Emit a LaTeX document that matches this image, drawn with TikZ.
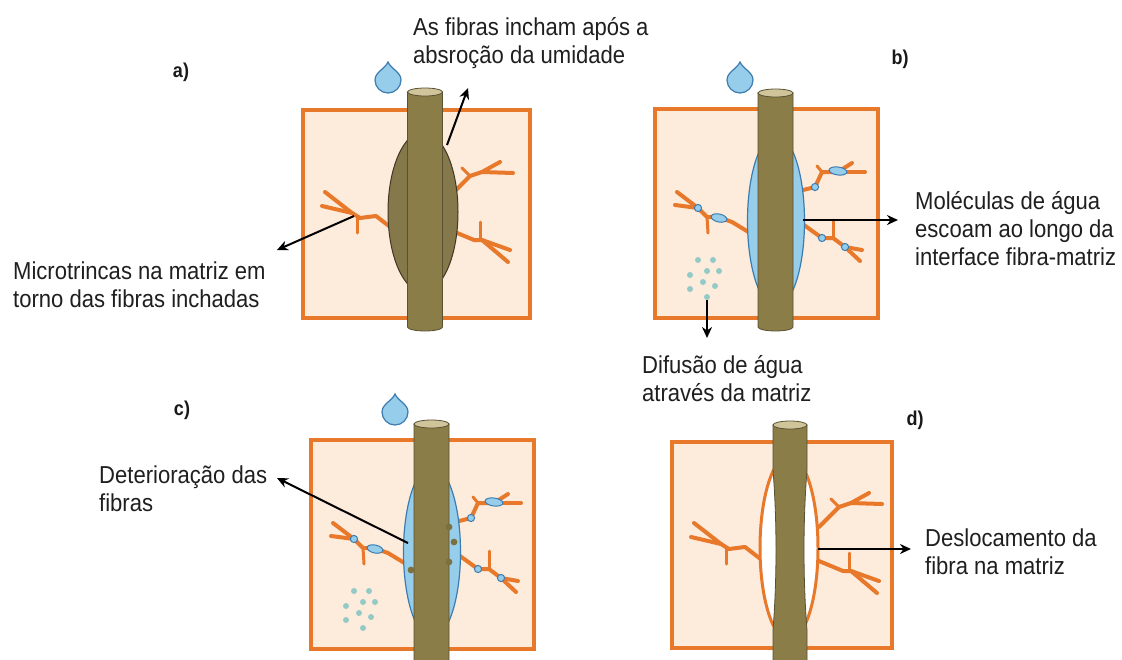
\documentclass[tikz,border=0pt]{standalone}
\usepackage{fontspec}
\setmainfont[FakeStretch=0.9]{Liberation Sans}
\usetikzlibrary{arrows.meta}

\definecolor{matfill}{HTML}{FDEBDC}
\definecolor{matedge}{HTML}{E8792B}
\definecolor{fiberc}{HTML}{8A7D48}
\definecolor{fiberedge}{HTML}{5A5032}
\definecolor{fibertop}{HTML}{CFC49A}
\definecolor{swellc}{HTML}{85784A}
\definecolor{waterc}{HTML}{95CDEA}
\definecolor{wateredge}{HTML}{3C7CB0}
\definecolor{porec}{HTML}{93CAC6}
\definecolor{rotc}{HTML}{7A7040}

\tikzset{
  matrixbox/.style={fill=matfill, draw=matedge, line width=4pt},
  crack/.style={draw=matedge, line width=4pt, line cap=round, line join=round},
  twig/.style={draw=matedge, line width=3pt, line cap=round},
  fiberbody/.style={fill=fiberc, draw=fiberedge, line width=0.8pt},
  fibercap/.style={fill=fibertop, draw=fiberedge, line width=0.8pt},
  dropstyle/.style={fill=waterc, draw=wateredge, line width=1.2pt},
  bubble/.style={fill=waterc, draw=wateredge, line width=1pt},
  pore/.style={fill=porec, draw=none},
  rot/.style={fill=rotc, draw=none},
  callout/.style={draw=black, line width=2pt, -{Stealth[length=11pt,width=10pt]}},
  note/.style={anchor=north west, inner sep=0pt, align=left,
    font=\fontsize{24.5}{28}\selectfont, text=black!88},
  paneltag/.style={font=\fontsize{20}{24}\selectfont\bfseries, inner sep=0pt, text=black!90},
}

% water drop: #1 = x of centre, #2 = y of lowest point
\newcommand\waterdrop[2]{%
  \path[dropstyle] (#1,#2-31)
    .. controls (#1+3,#2-24) and (#1+13,#2-21) .. (#1+13,#2-13)
    arc[start angle=0, end angle=180, radius=13]
    .. controls (#1-13,#2-21) and (#1-3,#2-24) .. (#1,#2-31) -- cycle;}

% fibre rod: #1 = x of axis, #2 = top y, #3 = bottom y, #4 = half width
\newcommand\fiberrod[4]{%
  \path[fiberbody] (#1-#4,#2) -- (#1-#4,#3)
    arc[start angle=180, end angle=0, x radius=#4, y radius=4] -- (#1+#4,#2) -- cycle;
  \path[fibercap] (#1,#2) ellipse[x radius=#4, y radius=4];}

% branching microcracks around a swollen fibre
\newcommand\drycracks{%
  \draw[crack] (398,233) -- (376,216) -- (360,218) -- (352,213) -- (325,192);
  \draw[crack] (352,213) -- (322,206);
  \draw[twig] (357,216) -- (357,233);
  \draw[crack] (450,196) -- (470,176) -- (482,172) -- (500,162);
  \draw[crack] (482,172) -- (513,173);
  \draw[twig] (470,176) -- (462,168);
  \draw[crack] (450,230) -- (474,240) -- (482,240) -- (510,250);
  \draw[crack] (482,240) -- (508,262);
  \draw[twig] (480,240) -- (480,222);}

% matrix block with water along the interface: #1 = bottom y of the fibre
\newcommand\wetpanel[1]{%
  \path[matrixbox] (655,109) rectangle (878,318);
  \draw[crack] (755,236) -- (732,222) -- (718,217) -- (707,217) -- (698,208) -- (677,192);
  \draw[crack] (698,208) -- (675,205);
  \draw[twig] (707,217) -- (708,233);
  \draw[crack] (795,192) -- (815,187) -- (822,172) -- (838,172) -- (852,163);
  \draw[crack] (838,172) -- (865,172);
  \draw[twig] (822,172) -- (817,166);
  \draw[crack] (797,220) -- (822,238) -- (833,238) -- (845,247) -- (862,250);
  \draw[crack] (845,247) -- (860,261);
  \draw[twig] (833,238) -- (833,220);
  \path[bubble, rotate around={-12:(719,218)}] (719,218) ellipse[x radius=8, y radius=4];
  \path[bubble] (698,208) circle[radius=3.6];
  \path[bubble] (815,187) circle[radius=3.6];
  \path[bubble, rotate around={-8:(838,171)}] (838,171) ellipse[x radius=9, y radius=4];
  \path[bubble] (822,238) circle[radius=3.6];
  \path[bubble] (845,247) circle[radius=3.6];
  \path[fill=waterc, draw=wateredge, line width=1.2pt] (776,221) ellipse[x radius=28.5, y radius=86];
  \fiberrod{775.5}{93}{#1}{17.5}
  \foreach \px/\py in {698/260, 713/260, 690/275, 707/271, 719/271,
                       703/282, 715/286, 690/289, 707/297}
    \path[pore] (\px,\py) circle[radius=3];}

\begin{document}
\begin{tikzpicture}[x=1pt, y=-1pt]
  \useasboundingbox (0,0) rectangle (1122,659);
  \fill[white] (0,0) rectangle (1122,659);

  % ---- a) swelling of the fibre ----
  \path[matrixbox] (303,110) rectangle (530,318);
  \drycracks
  \path[fill=swellc, draw=fiberedge!70!black, line width=1pt] (423,212) ellipse[x radius=35, y radius=80];
  \fiberrod{425}{92}{327}{17.5}
  \waterdrop{388}{93}

  % ---- b) water along the interface ----
  \wetpanel{327}
  \waterdrop{740}{93}

  % ---- c) fibre deterioration ----
  \begin{scope}[shift={(-344,331)}]
    \wetpanel{360}
    \foreach \px/\py in {793/196, 798/211, 793/231, 755/239}
      \path[rot] (\px,\py) circle[radius=3.4];
  \end{scope}
  \waterdrop{395}{425}

  % ---- d) debonding of the fibre ----
  \path[matrixbox] (672,442) rectangle (892,648);
  \begin{scope}[shift={(369,331)}]
    \drycracks
  \end{scope}
  \path[fill=white, draw=matedge, line width=3pt] (789,548) ellipse[x radius=29, y radius=92];
  \path[fiberbody] (773,425) -- (773,470)
     .. controls (777,520) and (777,580) .. (773,630) -- (773,680) -- (807,680) -- (807,630)
     .. controls (803,580) and (803,520) .. (807,470) -- (807,425) -- cycle;
  \path[fibercap] (790,425) ellipse[x radius=17, y radius=4];

  % ---- panel tags ----
  \node[paneltag] (taga) at (181,72) {a)};
  \node[paneltag] (tagb) at (900,59) {b)};
  \node[paneltag] (tagc) at (182,410) {c)};
  \node[paneltag] (tagd) at (915,420) {d)};

  % ---- captions ----
  \node[note] (swelltext) at (413,17) {As fibras incham após a\\absroção da umidade};
  \node[note] (cracktext) at (13,262) {Microtrincas na matriz em\\torno das fibras inchadas};
  \node[note] (flowtext) at (915,191) {Moléculas de água\\escoam ao longo da\\interface fibra-matriz};
  \node[note] (difftext) at (642,355) {Difusão de água\\através da matriz};
  \node[note] (dettext) at (99,466) {Deterioração das\\fibras};
  \node[note] (disptext) at (925,529) {Deslocamento da\\fibra na matriz};

  % ---- callout arrows ----
  \coordinate (swellfrom) at (447,145);
  \coordinate (swellto) at (468,88);
  \coordinate (crackfrom) at (354,216);
  \coordinate (crackto) at (277,250);
  \coordinate (flowfrom) at (803,220);
  \coordinate (flowto) at (898,220);
  \coordinate (difffrom) at (707,300);
  \coordinate (diffto) at (707,338);
  \coordinate (detfrom) at (408,543);
  \coordinate (detto) at (277,478);
  \coordinate (dispfrom) at (818,549);
  \coordinate (dispto) at (911,549);
  \draw[callout] (swellfrom) -- (swellto);
  \draw[callout] (crackfrom) -- (crackto);
  \draw[callout] (flowfrom) -- (flowto);
  \draw[callout] (difffrom) -- (diffto);
  \draw[callout] (detfrom) -- (detto);
  \draw[callout] (dispfrom) -- (dispto);
\end{tikzpicture}
\end{document}
